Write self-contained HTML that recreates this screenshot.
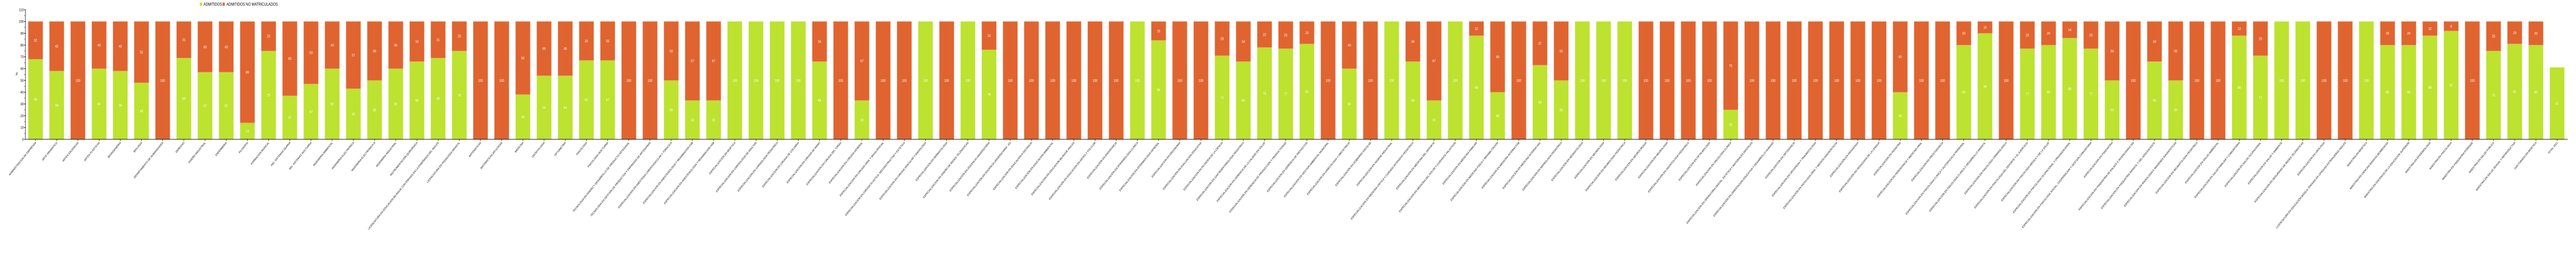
<!DOCTYPE html>
<html><head><meta charset="utf-8"><style>
html,body{margin:0;padding:0;background:#fff;overflow:hidden;width:100%;height:100%;}
svg{display:block;font-family:"Liberation Sans",sans-serif;overflow:hidden;width:100vw;height:100vh;}
</style></head><body>
<svg id="chart" viewBox="0 0 6200 500" preserveAspectRatio="none" xmlns="http://www.w3.org/2000/svg">
<g>
<rect x="481" y="5" width="5" height="6" fill="#bde22f" stroke="#d6ee80" stroke-width="0.6"/>
<text x="490" y="11" font-size="8" fill="#000">ADMITIDOS</text>
<rect x="536" y="5" width="5" height="6" fill="#e0642f" stroke="#eea080" stroke-width="0.6"/>
<text x="545" y="11" font-size="8" fill="#000">ADMITIDOS NO MATRICULADOS</text>
</g>
<g id="plot"></g>
</svg>
<script>
const categories = ["ADMINISTRACION DE EMPRESAS","ARTE DRAMATICO","ARTES ESCENICAS","ARTES PLASTICAS","BIOINGENIERIA","BIOLOGIA","DEPARTAMENTO DE HUMANIDADES","DERECHO","DISEÑO INDUSTRIAL","ENFERMERIA","FILOSOFIA","FORMACION MUSICAL","ING. SISTEMAS DIURNA","ING. SISTEMAS NOCTURNA","INGENIERIA AMBIENTAL","INGENIERIA ELECTRONICA","INGENIERIA ELECTRONICA N","INGENIERIA INDUSTRIAL","INSTRUMENTACION QUIRURGICA","LICENCIATURA EN EDUCACION BILINGUE CON ENFASIS EN LA ENSEÑANZA DEL INGLES","LICENCIATURA EN PEDAGOGIA INFANTIL","MATEMATICAS","MATEMATICAS APLICADAS","MEDICINA","ODONTOLOGIA","OPTOMETRIA","PSICOLOGIA","PSICOLOGIA-NOCTURNA","TECNOLOGIA EN DISEÑO Y DESARROLLO DE PRODUCTO ARTESANAL","TECNOLOGIA EN GESTIÓN DE PRODUCTOS Y EMPRESAS DE ARTESANIAS","ESPECIALIZACION EN ANESTESIA CARDIOVASCULAR Y TORACICA","ESPECIALIZACION EN ANESTESIOLOGIA Y REANIMACION FSB","ESPECIALIZACION EN ANESTESIOLOGIA Y REANIMACION HSB","ESPECIALIZACION EN BIOETICA","ESPECIALIZACION EN CARDIOLOGIA DE ADULTOS","ESPECIALIZACION EN CARDIOLOGIA PEDIATRICA","ESPECIALIZACION EN CIRUGIA DE COLUMNA","ESPECIALIZACION EN CIRUGIA DE MANO","ESPECIALIZACION EN CIRUGIA DEL TORAX","ESPECIALIZACION EN CIRUGIA GENERAL","ESPECIALIZACION EN CIRUGIA ORAL Y MAXILOFACIAL","ESPECIALIZACION EN CIRUGIA PLASTICA, RECONSTRUCTIVA Y ESTETICA","ESPECIALIZACION EN CIRUGIA VASCULAR Y ANGIOLOGIA","ESPECIALIZACION EN DERMATOLOGIA","ESPECIALIZACION EN DISEÑO DE REDES TELEMATICAS","ESPECIALIZACION EN DOCENCIA UNIVERSITARIA","ESPECIALIZACIÓN EN DOCENCIA UNIVERSITARIA - ED","ESPECIALIZACION EN EDUCACION A DISTANCIA","ESPECIALIZACIÓN EN EDUCACION AMBIENTAL","ESPECIALIZACION EN EDUCACION BILINGUE-INGLES","ESPECIALIZACIÓN EN EDUCACION EN ARTES Y FOLCLOR","ESPECIALIZACION EN ENDODONCIA","ESPECIALIZACION EN EPIDEMIOLOGIA CLINICA","ESPECIALIZACION EN EPIDEMIOLOGIA GENERAL","ESPECIALIZACION EN ERGONOMIA","ESPECIALIZACIÓN EN EVALUACION EDUCATIVA","ESPECIALIZACION EN FILOSOFIA DE LA CIENCIA","ESPECIALIZACION EN GASTROENTEROLOGIA PEDIATRICA","ESPECIALIZACION EN GERENCIA DE LA CALIDAD EN SALUD","ESPECIALIZACION EN GERENCIA DE PRODUCCION Y PRODUCTIVIDAD","ESPECIALIZACION EN GERENCIA DE PROYECTOS","ESPECIALIZACION EN GESTION AMBIENTAL MUNICIPAL","ESPECIALIZACION EN GINECOLOGIA Y OBSTETRICIA","ESPECIALIZACIÓN EN GOBIERNO ESCOLAR","ESPECIALIZACION EN HIGIENE INDUSTRIAL","ESPECIALIZACION EN MEDICINA CRITICA Y CUIDADO INTENSIVO PEDIATRICO","ESPECIALIZACION EN MEDICINA DEL DEPORTE","ESPECIALIZACION EN MEDICINA DEL DOLOR Y CUIDADOS PALIATIVOS","ESPECIALIZACION EN MEDICINA FAMILIAR","ESPECIALIZACION EN MEDICINA FISICA Y REHABILITACION","ESPECIALIZACION EN MEDICINA INTERNA FSB","ESPECIALIZACION EN MEDICINA INTERNA HSC","ESPECIALIZACION EN NEFROLOGIA PEDIATRICA","ESPECIALIZACION EN NEONATOLOGIA","ESPECIALIZACION EN NEUMOLOGIA","ESPECIALIZACION EN NEUMOLOGIA PEDIATRICA","ESPECIALIZACION EN NEUROCIRUGIA","ESPECIALIZACION EN NEUROLOGIA","ESPECIALIZACION EN ODONTOLOGIA PEDIATRICA","ESPECIALIZACION EN OFTALMOLOGIA","ESPECIALIZACION EN ONCOLOGIA CLINICA","ESPECIALIZACION EN OPERATORIA DENTAL, ESTÉTICA Y MATERIALES DENTALES","ESPECIALIZACIÓN EN ORIENTACION EDUCATIVA Y DESARROLLO HUMANO","ESPECIALIZACION EN ORTODONCIA","ESPECIALIZACION EN ORTOPEDIA Y TRAUMATOLOGIA","ESPECIALIZACION EN PATOLOGIA ORAL Y MEDIOS DIAGNOSTICOS","ESPECIALIZACIÓN EN PEDAGOGIA","ESPECIALIZACIÓN EN PEDAGOGIA DE LA LENGUA","ESPECIALIZACION EN PEDIATRIA","ESPECIALIZACION EN PERIODONCIA Y MEDICINA ORAL","ESPECIALIZACION EN PROSTODONCIA","ESPECIALIZACION EN PSICOLOGIA CLINICA Y AUTOEFICACIA PERSONAL","ESPECIALIZACION EN PSICOLOGIA CLINICA Y DESARROLLO INFANTIL","ESPECIALIZACION EN PSICOLOGIA CRIMINOLOGICA","ESPECIALIZACION EN PSICOLOGIA DEL DEPORTE Y EL EJERCICIO","ESPECIALIZACION EN PSICOLOGIA MEDICA Y DE LA SALUD","ESPECIALIZACION EN PSICOLOGIA OCUPACIONAL Y ORGANIZACIONAL","ESPECIALIZACION EN PSICOLOGIA SOCIAL, COOPERACION Y GESTION COMUNITARIA","ESPECIALIZACION EN PSIQUIATRIA","ESPECIALIZACION EN PSIQUIATRIA DE ENLACE E INTERCONSULTAS","ESPECIALIZACION EN PSIQUIATRIA INFANTIL Y DEL ADOLESCENTE","ESPECIALIZACION EN RADIOLOGIA E IMAGENES DIAGNOSTICAS","ESPECIALIZACION EN REUMATOLOGIA PEDIATRICA","ESPECIALIZACION EN SALUD AMBIENTAL","ESPECIALIZACION EN SALUD FAMILIAR Y COMUNITARIA","ESPECIALIZACION EN SALUD OCUPACIONAL","ESPECIALIZACION EN SALUD Y AMBIENTE","ESPECIALIZACION EN SEGURIDAD DE REDES TELEMATICAS","ESPECIALIZACION EN UROLOGIA","LICENCIATURA EN EDUCACIÓN BÁSICA: ÉNFASIS EN LENGUAS EXTRANJERAS INGLES","MAESTRIA EN BIOETICA","MAESTRIA EN CIENCIAS BASICAS BIOMEDICAS","MAESTRIA EN DOCENCIA DE LA EDUCACION SUPERIOR","MAESTRÍA EN EPIDEMIOLOGÍA","MAESTRIA EN PSICOLOGIA","MAESTRIA EN PSIQUIATRIA FORENSE","MAESTRIA EN SALUD PUBLICA","MAESTRIA EN SALUD SEXUAL Y REPRODUCTIVA","DOCTORADO EN BIOETICA","TOTAL 2012"];
const admitidos = [68,58,0,60,58,48,0,69,57,57,14,75,37,47,60,43,50,60,66,69,75,0,0,38,54,54,67,67,0,0,50,33,33,100,100,100,100,66,0,33,0,0,100,0,100,76,0,0,0,0,0,0,100,84,0,0,71,66,78,77,81,0,60,0,100,66,33,100,88,40,0,63,50,100,100,100,0,0,0,0,25,0,0,0,0,0,0,0,40,0,0,80,90,0,77,80,86,77,50,0,66,50,0,0,88,71,100,100,0,0,100,80,80,88,92,0,75,81,80,61];
const noMatriculados = [32,42,100,40,42,52,100,31,43,43,86,25,63,53,40,57,50,40,34,31,25,100,100,62,46,46,33,33,100,100,50,67,67,0,0,0,0,34,100,67,100,100,0,100,0,24,100,100,100,100,100,100,0,16,100,100,29,34,22,23,19,100,40,100,0,34,67,0,12,60,100,37,50,0,0,0,100,100,100,100,75,100,100,100,100,100,100,100,60,100,100,20,10,100,23,20,14,23,50,100,34,50,100,100,12,29,0,0,100,100,0,20,20,12,8,100,25,19,20,0];
const yTicks = [0,10,20,30,40,50,60,70,80,90,100,110];

const NS = "http://www.w3.org/2000/svg";
const plot = document.getElementById("plot");
const X0 = 61, X1 = 6180, Y0 = 270, Y100 = 41.7;
const PITCH = 51, BW = 35, FIRST = 68;
function yScale(v){ return Y0 - (Y0 - Y100) * v / 100; }
function xScale(i){ return FIRST + i * PITCH; }
function mk(tag, attrs){ const e = document.createElementNS(NS, tag); for (const k in attrs) e.setAttribute(k, attrs[k]); plot.appendChild(e); return e; }

let ax = mk("line",{x1:X0,y1:yScale(110),x2:X0,y2:Y0,stroke:"#000","stroke-width":1});


yTicks.forEach(t=>{
  const y = yScale(t);
  const tk = mk("line",{x1:X0-3,y1:y,x2:X0+1,y2:y,stroke:"#000","stroke-width":1});
  
  
  const lb = mk("text",{x:X0-4,y:y+2.5,"font-size":7,"text-anchor":"end",fill:"#000"});
  lb.textContent = t;
  
  
  if (t < 110) {
    const my = yScale(t+5);
    const mt = mk("line",{x1:X0-3,y1:my,x2:X0-1,y2:my,stroke:"#e02020","stroke-width":1});
    
    
  }
});
const yt = mk("text",{x:0,y:0,"font-size":7,"text-anchor":"middle",fill:"#000",transform:"translate(43,143) rotate(-90)"});
yt.textContent = "%";



categories.forEach((c,i)=>{
  const x = xScale(i), cx = x + BW/2;
  const a = admitidos[i], n = noMatriculados[i];
  if (a > 0) {
    const r = mk("rect",{x:x,y:yScale(a),width:BW,height:Y0-yScale(a),fill:"#bde22f",stroke:"#d3ec78","stroke-width":0.8});
    
    
    const t = mk("text",{x:cx,y:(yScale(a)+Y0)/2+2.5,"font-size":7,"text-anchor":"middle",fill:"#fff"});
    t.textContent = a;
    
    
  }
  if (n > 0) {
    const top = yScale(a+n), bot = yScale(a);
    const r = mk("rect",{x:x,y:top,width:BW,height:bot-top,fill:"#e0642f",stroke:"#eb9a78","stroke-width":0.8});
    
    
    const t = mk("text",{x:cx,y:(top+bot)/2+2.5,"font-size":7,"text-anchor":"middle",fill:"#fff"});
    t.textContent = n;
    
    
  }
  const tk = mk("line",{x1:cx,y1:Y0,x2:cx,y2:Y0+3,stroke:"#000","stroke-width":1});
  
  
  const lb = mk("text",{x:0,y:0,"font-size":5.6,"text-anchor":"end",fill:"#000",transform:"translate("+(cx+2)+","+(Y0+7)+") rotate(-45)"});
  lb.textContent = c;
  
  
});
const xa = mk("line",{x1:X0,y1:Y0,x2:X1,y2:Y0,stroke:"#000","stroke-width":1});


</script>
</body></html>
